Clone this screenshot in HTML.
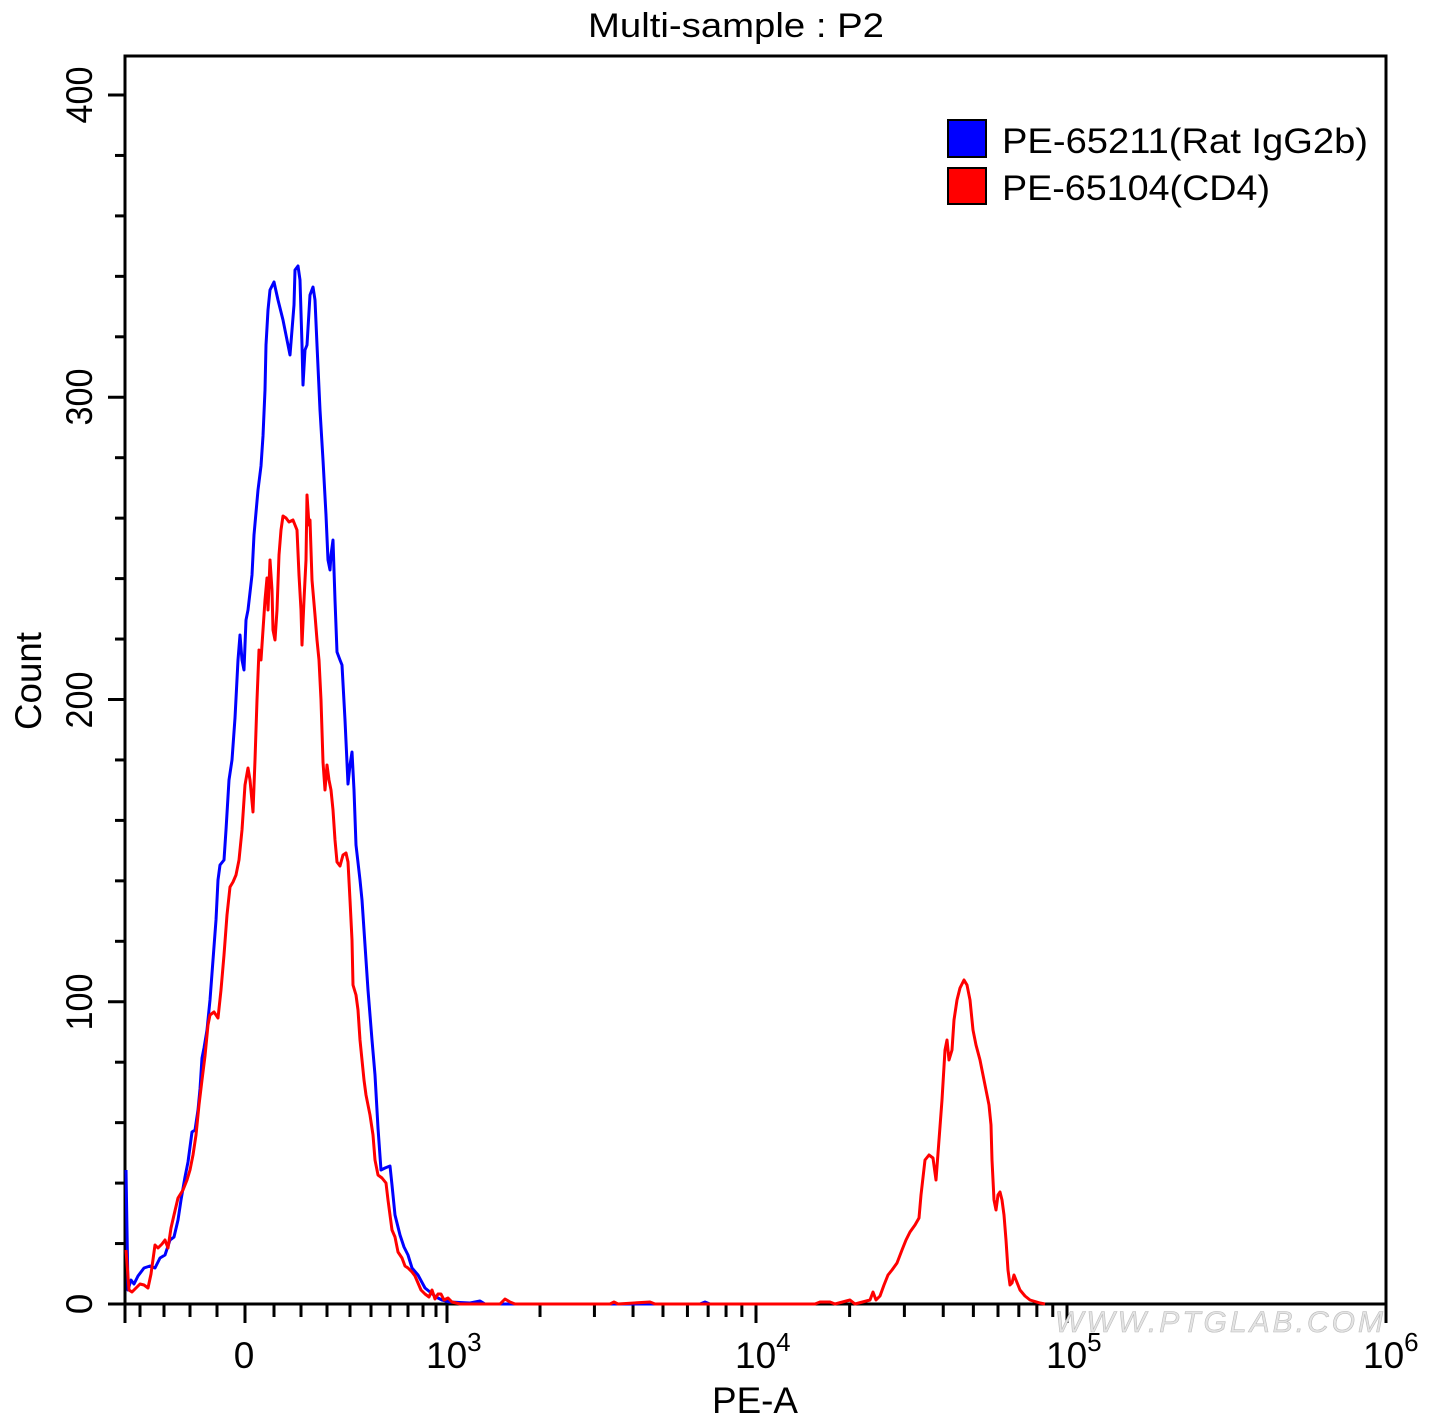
<!DOCTYPE html>
<html><head><meta charset="utf-8"><style>
body{margin:0;background:#fff}
svg text{font-family:"Liberation Sans",Arial,sans-serif;fill:#000}
</style></head><body>
<svg width="1434" height="1421" viewBox="0 0 1434 1421" xmlns="http://www.w3.org/2000/svg">
<rect width="1434" height="1421" fill="#fff"/>
<text x="588" y="37" font-size="34" textLength="296" lengthAdjust="spacingAndGlyphs">Multi-sample : P2</text>
<rect x="125" y="56" width="1261" height="1248" fill="none" stroke="#000" stroke-width="3"/>
<g stroke="#000" stroke-width="3" id="yt"></g>
<g stroke="#000" stroke-width="3" id="xt"></g>
<g font-size="37">
<text transform="translate(92,1304) rotate(-90)" text-anchor="middle">0</text>
<text transform="translate(92,1002) rotate(-90)" text-anchor="middle" textLength="57" lengthAdjust="spacingAndGlyphs">100</text>
<text transform="translate(92,700) rotate(-90)" text-anchor="middle" textLength="57" lengthAdjust="spacingAndGlyphs">200</text>
<text transform="translate(92,397) rotate(-90)" text-anchor="middle" textLength="57" lengthAdjust="spacingAndGlyphs">300</text>
<text transform="translate(92,95) rotate(-90)" text-anchor="middle" textLength="57" lengthAdjust="spacingAndGlyphs">400</text>
<text transform="translate(41,681) rotate(-90)" text-anchor="middle" textLength="98" lengthAdjust="spacingAndGlyphs">Count</text>
<text x="244" y="1368" text-anchor="middle">0</text>
<text x="426" y="1368">10<tspan font-size="26" dy="-17">3</tspan></text>
<text x="735" y="1368">10<tspan font-size="26" dy="-17">4</tspan></text>
<text x="1046" y="1368">10<tspan font-size="26" dy="-17">5</tspan></text>
<text x="1363" y="1368">10<tspan font-size="26" dy="-17">6</tspan></text>
<text x="712" y="1413" textLength="86" lengthAdjust="spacingAndGlyphs">PE-A</text>
</g>
<text x="1055" y="1332" font-size="30" font-style="italic" style="fill:#e4e4e4;stroke:#bbb;stroke-width:0.6" textLength="328">WWW.PTGLAB.COM</text>
<rect x="948" y="120" width="38" height="37" fill="#0000ff" stroke="#000" stroke-width="2"/>
<rect x="948" y="168" width="38" height="36" fill="#ff0000" stroke="#000" stroke-width="2"/>
<text x="1002" y="153" font-size="35" textLength="366" lengthAdjust="spacingAndGlyphs">PE-65211(Rat IgG2b)</text>
<text x="1002" y="200" font-size="35" textLength="268" lengthAdjust="spacingAndGlyphs">PE-65104(CD4)</text>
<polyline fill="none" stroke="#0000ff" stroke-width="3" stroke-linejoin="round" points="126,1170 128,1290 131,1280 134,1284 138,1276 144,1268 150,1266 155,1268 160,1258 165,1255 170,1240 174,1237 178,1220 181,1200 185,1177 188,1162 192,1132 195,1130 198,1110 200,1089 202,1058 204,1048 207,1030 210,1000 213,960 216,920 218,880 220,865 224,860 226,830 229,780 232,760 235,718 238,660 240,635 242,660 244,670 246,620 248,610 252,575 254,535 258,490 261,466 263,436 265,390 266,345 268,310 270,290 274,282 278,300 283,320 288,345 290,355 294,305 295,270 298,266 300,280 302,345 303,385 305,350 307,345 310,295 313,287 315,300 317,345 320,410 323,460 326,515 328,560 330,570 331,555 333,540 335,600 337,652 340,660 342,665 345,720 348,784 350,765 352,752 354,790 356,845 360,880 362,900 365,945 368,990 372,1040 375,1075 378,1128 381,1170 385,1168 390,1166 392,1185 395,1215 400,1235 404,1247 408,1255 412,1268 418,1275 425,1288 430,1292 436,1297 442,1300 450,1302 470,1303 480,1301 485,1304 700,1304 705,1302 710,1304"/>
<polyline fill="none" stroke="#ff0000" stroke-width="3" stroke-linejoin="round" points="126,1250 129,1290 132,1292 136,1288 140,1284 144,1285 148,1288 151,1274 155,1245 158,1248 162,1244 165,1240 168,1248 171,1228 174,1215 178,1198 183,1190 187,1180 190,1170 193,1155 196,1135 199,1105 202,1080 205,1056 208,1025 210,1015 214,1012 218,1018 221,990 224,955 227,915 230,887 233,882 236,875 239,860 242,830 245,785 248,768 250,780 253,812 255,760 257,700 259,650 261,660 263,630 265,600 267,578 268,610 270,560 272,590 273,630 275,640 277,610 279,555 281,530 283,516 286,518 289,522 293,520 297,530 299,575 301,610 302,645 304,600 306,560 307,495 309,525 310,520 312,580 315,615 317,640 319,660 321,700 323,762 325,790 327,765 329,780 331,790 333,810 335,840 337,862 340,866 343,855 346,853 348,862 350,900 352,940 353,985 356,995 358,1010 360,1040 362,1060 364,1080 366,1095 370,1115 373,1135 375,1160 378,1175 382,1178 386,1183 388,1200 392,1230 395,1237 398,1252 402,1258 405,1266 408,1268 412,1272 415,1276 418,1283 421,1290 425,1294 429,1297 432,1290 435,1299 438,1294 441,1294 444,1300 448,1298 452,1302 460,1304 500,1304 505,1299 510,1302 515,1304 610,1304 614,1302 618,1304 650,1302 655,1304 815,1304 820,1302 830,1302 835,1304 850,1300 855,1304 870,1300 873,1292 876,1300 880,1296 884,1285 888,1275 892,1270 897,1263 902,1250 906,1240 910,1232 915,1225 919,1218 921,1195 925,1160 929,1155 933,1158 936,1180 939,1140 942,1100 945,1050 947,1040 949,1060 952,1050 954,1020 957,1000 960,988 964,980 967,985 970,1000 973,1030 976,1045 980,1060 983,1075 986,1090 989,1105 991,1125 992,1160 994,1200 996,1210 998,1195 1000,1192 1002,1200 1004,1215 1006,1240 1008,1270 1010,1285 1012,1283 1014,1275 1016,1280 1020,1290 1025,1296 1030,1300 1040,1303 1045,1304"/>
<script>
(function(){
var ns="http://www.w3.org/2000/svg";
function L(g,x1,y1,x2,y2){var l=document.createElementNS(ns,"line");l.setAttribute("x1",x1);l.setAttribute("y1",y1);l.setAttribute("x2",x2);l.setAttribute("y2",y2);g.appendChild(l);}
var yt=document.getElementById("yt");
for(var v=0;v<=400;v+=20){var y=1304-v*3.0225;L(yt,v%100==0?108:115,y,125,y);}
var xt=document.getElementById("xt");
var maj=[125,245,447,756,1067,1386];maj.forEach(function(x){L(xt,x,1304,x,1323);});
[140,164,190,217,274,301,327,350,371,390,408,423,436].forEach(function(x){L(xt,x,1304,x,1317);});
for(var k=2;k<=9;k++){L(xt,447+309*Math.log10(k),1304,447+309*Math.log10(k),1317);L(xt,756+311*Math.log10(k),1304,756+311*Math.log10(k),1317);}
})();
</script>
</svg>
</body></html>
